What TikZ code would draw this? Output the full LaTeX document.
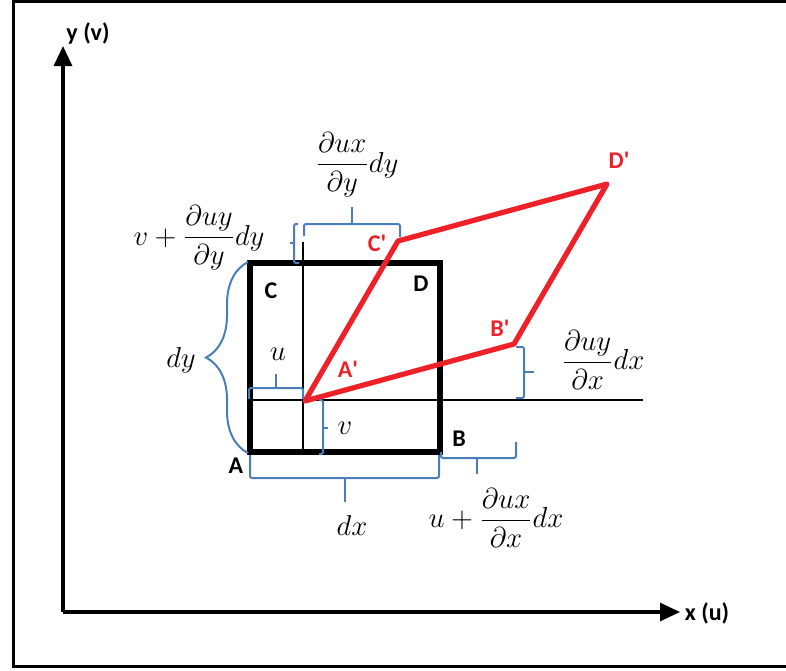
\documentclass[tikz,border=0pt]{standalone}
\usepackage{amsmath}
\usepackage{fontspec}
\setmainfont{Carlito}
\usetikzlibrary{arrows.meta,decorations.pathreplacing}
\definecolor{azulllave}{HTML}{4A7EBB}
\definecolor{rojodef}{HTML}{EE2028}
\tikzset{
  marco/.style={line width=1.5pt},
  eje/.style={line width=1.6pt, -{Triangle[length=10pt,width=9pt]}},
  cuadro/.style={line width=2.6pt, line join=miter},
  deformado/.style={draw=rojodef, line width=2.6pt, line join=round},
  guia/.style={line width=1.4pt},
  corchete/.style={draw=azulllave, line width=1pt, rounded corners=1pt},
  llave/.style={draw=azulllave, line width=1pt, decorate,
    decoration={brace, amplitude=21pt}},
  vertice/.style={font=\bfseries\fontsize{12}{14}\selectfont, inner sep=0pt},
  verticerojo/.style={vertice, text=rojodef},
  formula/.style={font=\fontsize{14.4}{17}\selectfont, inner sep=0pt},
}

\begin{document}
\begin{tikzpicture}[x=0.5pt, y=-0.5pt]
    \useasboundingbox (0,0) rectangle (786,670);
    % Marco
    \draw[marco] (800,1) -- (13,1) -- (13,666) -- (800,666);
    % Ejes
    \coordinate (O) at (63,612);
    \coordinate (ejey) at (63,46);
    \coordinate (ejex) at (680,612);
    \draw[eje] (O) -- (ejey);
    \draw[eje] (O) -- (ejex);
    \node[vertice] (ly) at (88,33) {y (v)};
    \node[vertice] (lx) at (707,613) {x (u)};
    % Elemento original ABCD
    \coordinate (A) at (250,452);
    \coordinate (B) at (440,452);
    \coordinate (C) at (250,263);
    \coordinate (D) at (440,263);
    \draw[guia] (250,400) -- (643,400);
    \draw[guia] (303,242) -- (303,452);
    \draw[cuadro] (A) -- (B) -- (D) -- (C) -- cycle;
    % Elemento deformado A'B'C'D'
    \coordinate (Ap) at (305,401);
    \coordinate (Bp) at (514,344);
    \coordinate (Cp) at (398,241);
    \coordinate (Dp) at (607,184);
    \draw[deformado] (Ap) -- (Bp) -- (Dp) -- (Cp) -- cycle;
    % Vertices
    \node[vertice] (nA) at (236,466) {A};
    \node[vertice] (nB) at (459,439) {B};
    \node[vertice] (nC) at (271,291) {C};
    \node[vertice] (nD) at (421,284) {D};
    \node[verticerojo] (nAp) at (348,369) {A\textquotesingle};
    \node[verticerojo] (nBp) at (500,328) {B\textquotesingle};
    \node[verticerojo] (nCp) at (377,243) {C\textquotesingle};
    \node[verticerojo] (nDp) at (619,160) {D\textquotesingle};
    % Corchetes
    \draw[llave] (248,453) -- (248,262);
    \draw[corchete] (249,399) -- (249,388) -- (303,388) -- (303,399);
    \draw[corchete] (276,388) -- (276,374);
    \draw[corchete] (319,400) -- (323,400) -- (323,454) -- (319,454);
    \draw[corchete] (323,428) -- (328,428);
    \draw[corchete] (250,455) -- (250,478) -- (439,478) -- (439,455);
    \draw[corchete] (345,478) -- (345,502);
    \draw[corchete] (441,452) -- (441,458) -- (516,458) -- (516,442);
    \draw[corchete] (477,458) -- (477,474);
    \draw[corchete] (516,347) -- (524,347) -- (524,398) -- (516,398);
    \draw[corchete] (524,372) -- (534,372);
    \draw[corchete] (304,236) -- (304,224) -- (400,224) -- (400,237);
    \draw[corchete] (352,224) -- (352,207);
    \draw[corchete] (298,224) -- (294,224) -- (294,263) -- (299,263);
    \draw[corchete] (294,243) -- (290,243);
    % Etiquetas
    \node[formula] (ldy) at (181,360) {$dy$};
    \node[formula] (lu) at (278,354) {$u$};
    \node[formula] (lv) at (345,428) {$v$};
    \node[formula] (ldx) at (352,525) {$dx$};
    \node[formula] (lux) at (496,518) {$u+\dfrac{\partial ux}{\partial x}dx$};
    \node[formula] (luy) at (603,360) {$\dfrac{\partial uy}{\partial x}dx$};
    \node[formula] (luxy) at (357,165) {$\dfrac{\partial ux}{\partial y}dy$};
    \node[formula] (lvy) at (199,238) {$v+\dfrac{\partial uy}{\partial y}dy$};
\end{tikzpicture}
\end{document}
